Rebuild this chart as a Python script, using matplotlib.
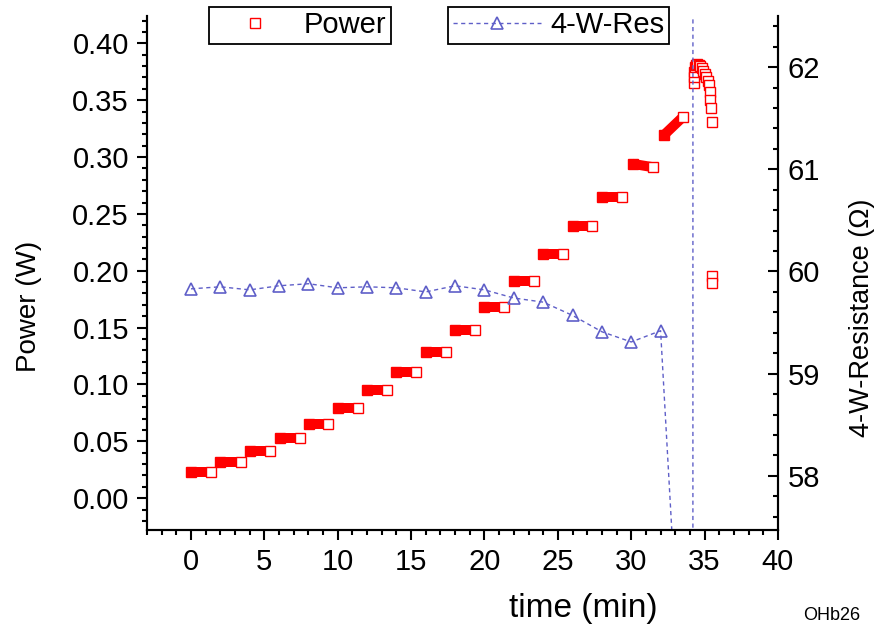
import numpy as np
import matplotlib
matplotlib.use("Agg")
import matplotlib.pyplot as plt
from matplotlib.lines import Line2D
from matplotlib.ticker import MultipleLocator, FormatStrFormatter

plt.rcParams["font.family"] = ["Liberation Sans", "DejaVu Sans"]

# power: each constant-current step is a dense run of samples from t0 to t1
step_t0 = [0.0, 2.0, 4.05, 6.05, 8.05, 10.0, 12.0, 14.0, 16.0, 18.0,
           20.0, 22.0, 24.0, 26.0, 28.0, 30.1, 32.2]
step_t1 = [1.35, 3.4, 5.4, 7.4, 9.35, 11.35, 13.35, 15.35, 17.35, 19.35,
           21.35, 23.35, 25.35, 27.35, 29.35, 31.5, 33.5]
step_p0 = [0.0234, 0.0322, 0.0418, 0.0527, 0.0656, 0.0794, 0.0952, 0.1108,
           0.1289, 0.148, 0.1684, 0.1908, 0.2145, 0.2394, 0.265, 0.294, 0.319]
step_p1 = [0.0234, 0.0322, 0.0418, 0.0527, 0.0656, 0.0794, 0.0952, 0.1108,
           0.1289, 0.148, 0.1684, 0.1908, 0.2145, 0.2394, 0.265, 0.291, 0.335]

# power: last samples around the breakdown
end_t = [34.3, 34.3, 34.3, 34.35, 34.4, 34.5, 34.6, 34.7, 34.8, 34.9, 35.0,
         35.1, 35.2, 35.3, 35.35, 35.4, 35.45, 35.5, 35.5, 35.5]
end_p = [0.365, 0.370, 0.375, 0.379, 0.381, 0.382, 0.381, 0.380, 0.378,
         0.376, 0.373, 0.370, 0.367, 0.363, 0.357, 0.350, 0.343, 0.331,
         0.1955, 0.1895]

# 4-wire resistance
res_t = [0, 2, 4, 6, 8, 10, 12, 14, 16, 18, 20, 22, 24, 26, 28, 30, 32,
         34.2, 34.35]
res_v = [59.83, 59.85, 59.82, 59.86, 59.88, 59.84, 59.85, 59.84, 59.80,
         59.86, 59.82, 59.74, 59.70, 59.57, 59.41, 59.31, 59.42, 53.8, 400.0]

RED = "#ff0000"
BLUE = "#5f5fc8"
FS = 21


def main():
    fig = plt.figure(figsize=(8.77, 6.26), dpi=100)
    ax = fig.add_axes([0.1676, 0.1534, 0.7195, 0.821])
    ax2 = ax.twinx()

    # dense runs look like solid bars, last sample of each run is open
    for t0, t1, p0, p1 in zip(step_t0, step_t1, step_p0, step_p1):
        ax.plot([t0, t1], [p0, p1], color=RED, lw=7.2,
                solid_capstyle="butt", zorder=2)
        ax.plot([t0], [p0], ls="none", marker="s", ms=7, mfc=RED,
                mec=RED, mew=1.0, zorder=2)
        ax.plot([t1], [p1], ls="none", marker="s", ms=7, mfc="white",
                mec=RED, mew=1.0, zorder=3)
    ax.plot(end_t, end_p, ls="none", marker="s", ms=7, mfc="white",
            mec=RED, mew=1.0, zorder=3)

    ax2.plot(res_t, res_v, color=BLUE, lw=1.0, ls=(0, (3, 2.5)),
             marker="^", ms=9, mfc="none", mec=BLUE, mew=1.2)

    ax.set_xlim(-3, 40)
    ax.set_ylim(-0.028, 0.424)
    ax2.set_ylim(57.47, 62.5)

    ax.xaxis.set_major_locator(MultipleLocator(5))
    ax.xaxis.set_minor_locator(MultipleLocator(1))
    ax.yaxis.set_major_locator(MultipleLocator(0.05))
    ax.yaxis.set_minor_locator(MultipleLocator(0.01))
    ax.yaxis.set_major_formatter(FormatStrFormatter("%.2f"))
    ax2.yaxis.set_major_locator(MultipleLocator(1))
    ax2.yaxis.set_minor_locator(MultipleLocator(0.2))

    ax.tick_params(axis="both", which="major", direction="out", length=7,
                   width=1.5, labelsize=FS, pad=6)
    ax.tick_params(axis="both", which="minor", direction="out", length=3.5,
                   width=1.5)
    ax.tick_params(top=False, right=False, which="both")
    ax2.tick_params(axis="y", which="major", direction="in", length=7,
                    width=1.5, labelsize=FS, pad=7)
    ax2.tick_params(axis="y", which="minor", direction="in", length=3.5,
                    width=1.5)

    for a in (ax, ax2):
        a.spines["top"].set_visible(False)
        for s in ("left", "bottom", "right"):
            a.spines[s].set_linewidth(1.5)

    ax.set_xlabel("time (min)", fontsize=24)
    ax.xaxis.set_label_coords(0.691, -0.123)
    ax.set_ylabel("Power (W)", fontsize=20)
    ax.yaxis.set_label_coords(-0.166, 0.436)
    ax2.set_ylabel("4-W-Resistance (\u03a9)", fontsize=19.5)
    ax2.yaxis.set_label_coords(1.112, 0.412)

    h_pow = Line2D([], [], ls="none", marker="s", ms=7, mfc="white",
                   mec=RED, mew=1.0)
    h_res = Line2D([], [], color=BLUE, lw=1.0, ls=(0, (3, 2.5)),
                   marker="^", ms=9, mfc="none", mec=BLUE, mew=1.2)
    leg_kw = dict(fontsize=FS, fancybox=False, framealpha=1,
                  edgecolor="black", borderpad=0.15, loc="upper left",
                  borderaxespad=0)
    leg1 = fig.legend([h_pow], ["Power"], bbox_to_anchor=(0.238, 0.989),
                      handlelength=2.9, handletextpad=0.2, **leg_kw)
    leg2 = fig.legend([h_res], ["4-W-Res"], bbox_to_anchor=(0.511, 0.989),
                      handlelength=3.05, handletextpad=0.3, **leg_kw)
    for lg in (leg1, leg2):
        lg.get_frame().set_linewidth(1.3)

    fig.text(803 / 877, 1 - 607 / 626, "OHb26", fontsize=13, va="top",
             ha="left")

    fig.savefig("out.png", dpi=100)
    plt.close(fig)


main()
